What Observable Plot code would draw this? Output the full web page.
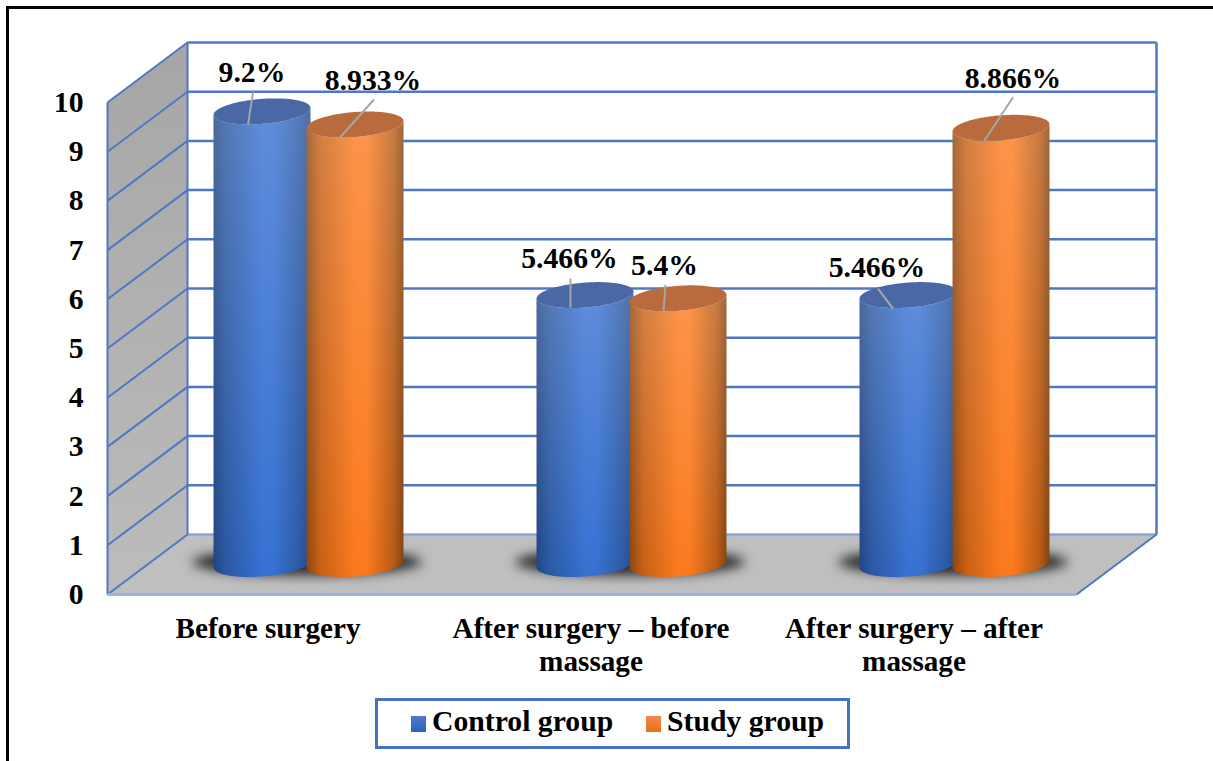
<!DOCTYPE html>
<html><head><meta charset="utf-8">
<script src="https://cdn.jsdelivr.net/npm/d3@7"></script>
<script src="https://cdn.jsdelivr.net/npm/@observablehq/plot@0.6"></script>
<style>
html,body{margin:0;padding:0;background:#fff;overflow:hidden;width:1213px;height:761px}
#root{position:relative;width:1213px;height:761px}
#root svg{display:block;background:transparent}
#frame{position:absolute;left:6px;top:6px;right:0;bottom:0;border-top:3px solid #000;border-left:3px solid #000;pointer-events:none}
#legend{position:absolute;left:375px;top:698px;width:469px;height:45px;border:3px solid #4472c4;font:bold 29.7px "Liberation Serif",serif;color:#000}
#legend span{position:absolute;white-space:nowrap}
.sw{width:15px;height:16px;top:15px}
</style></head><body>
<div id="root"><div id="frame"></div></div>
<script>
// ---- data ----
const categories = ["Before surgery", "After surgery – before\nmassage", "After surgery – after\nmassage"];
const groups = ["Control group", "Study group"];
const control = [9.2, 5.466, 5.466];
const study = [8.933, 5.4, 8.866];
const yTicks = [0, 1, 2, 3, 4, 5, 6, 7, 8, 9, 10];

// ---- chart geometry (in scale units) ----
const pxX = 323, pxY = 49.2;                 // pixels per scale unit
const depthX = 80 / pxX, depthY = 60 / pxY;  // 3D box depth
const halfGap = 0.144, rx = 0.15, ry = 12.5 / pxY, tilt = 3.5 / pxY;
// leader / label offsets in pixels from each cylinder's top centre: [endX,endY,startX,startY,labelX,labelY]
const callouts = [
  [[-14.5, 12.6, -9.5, -19.4, -10.5, -39], [-15.5, 12.5, 18.5, -25.5, 17.5, -44.5]],
  [[-15, 12, -15, -17, -16, -37], [-15, 12, -13, -14, -14, -33]],
  [[-15.5, 13, -30.5, -7, -31.5, -28], [-17.5, 13, 11.5, -31, 11.5, -50]]
];
const serif = "Liberation Serif";
const textStyle = {fontFamily: serif, fontWeight: "bold", fontSize: 29.7, fill: "#000"};
const gridBlue = "#4f77c4";

const angles = d3.range(0, 121).map(i => i / 120 * Math.PI);
const rows = [];
categories.forEach((c, i) => groups.forEach((g, j) => {
  const value = (j ? study : control)[i];
  rows.push({i, j, value, id: i + "-" + j,
    cx: i + 0.5 + depthX / 2 + (j ? halfGap : -halfGap),
    top: value + depthY / 2, base: depthY / 2, off: callouts[i][j]});
}));
const cylSide = rows.flatMap(r => angles.map(t => ({id: r.id, j: r.j,
  x: r.cx - rx * Math.cos(t),
  lo: r.base - ry * Math.sin(t) - tilt * Math.cos(t),
  hi: r.top - ry * Math.sin(t) - tilt * Math.cos(t)})));
const cylCap = rows.flatMap(r => angles.map(t => ({id: r.id, j: r.j,
  x: r.cx - rx * Math.cos(t),
  lo: r.top - ry * Math.sin(t) - tilt * Math.cos(t),
  hi: r.top + ry * Math.sin(t) - tilt * Math.cos(t)})));
const shadows = categories.flatMap((c, i) => angles.map(t => ({id: i,
  x: i + 0.5 + depthX / 2 - 1.5 / pxX - 0.355 * Math.cos(t),
  lo: 0.65 - 0.27 * Math.sin(t),
  hi: 0.65 + 0.27 * Math.sin(t)})));

const floor = [[0, 0], [3, 0], [3 + depthX, depthY], [depthX, depthY]];
const wall = [[0, 0], [depthX, depthY], [depthX, 10 + depthY], [0, 10]];
const side = (data, j) => data.filter(d => d.j === j);

const defs = () => {
  const d = d3.create("svg:defs");
  d.html(`
  <linearGradient id="gBlue"><stop offset="0" stop-color="#1f4484"/><stop offset=".12" stop-color="#2a57a2"/><stop offset=".5" stop-color="#3671d2"/><stop offset=".62" stop-color="#3671d2"/><stop offset=".9" stop-color="#2b58a4"/><stop offset="1" stop-color="#234a8c"/></linearGradient>
  <linearGradient id="gOrange"><stop offset="0" stop-color="#8c4610"/><stop offset=".14" stop-color="#c85f14"/><stop offset=".5" stop-color="#fb7a1e"/><stop offset=".62" stop-color="#fb7a1e"/><stop offset=".9" stop-color="#b85a14"/><stop offset="1" stop-color="#84420e"/></linearGradient>
  <linearGradient id="gSheen" x1="0" y1="0" x2="0" y2="1"><stop offset="0" stop-color="#fff" stop-opacity=".2"/><stop offset="1" stop-color="#fff" stop-opacity="0"/></linearGradient>
  <linearGradient id="gWall" x1="0" y1="0" x2="0" y2="1"><stop offset="0" stop-color="#a6a6a6"/><stop offset="1" stop-color="#bcbcbc"/></linearGradient>`);
  return d.node();
};

const chart = Plot.plot({
  width: 1213, height: 690,
  marginLeft: 107, marginRight: 137, marginTop: 102, marginBottom: 96,
  x: {domain: [0, 3], range: [107, 1076], axis: null},
  y: {domain: [0, 10], range: [594, 102]},
  style: {fontFamily: serif, background: "transparent"},
  marks: [
    defs,
    Plot.line(wall, {x: d => d[0], y: d => d[1], fill: "url(#gWall)", stroke: "none"}),
    Plot.line(floor, {x: d => d[0], y: d => d[1], fill: "#bfbfbf", stroke: "none"}),
    // back wall grid
    Plot.link(yTicks.slice(1), {x1: depthX, x2: 3 + depthX, y1: d => d + depthY, y2: d => d + depthY, stroke: gridBlue, strokeWidth: 2.5}),
    Plot.link(yTicks.slice(0, 1), {x1: depthX, x2: 3 + depthX, y1: d => d + depthY, y2: d => d + depthY, stroke: "#8aa6dc", strokeWidth: 2.5}),
    // left wall diagonals
    Plot.link(yTicks, {x1: 0, x2: depthX, y1: d => d, y2: d => d + depthY, stroke: gridBlue, strokeWidth: 2}),
    // box edges
    Plot.link([0], {x1: 0, x2: 0, y1: 0, y2: 10, stroke: gridBlue, strokeWidth: 2}),
    Plot.link([0], {x1: depthX, x2: depthX, y1: depthY, y2: 10 + depthY, stroke: gridBlue, strokeWidth: 2}),
    Plot.link([0], {x1: 3 + depthX, x2: 3 + depthX, y1: depthY, y2: 10 + depthY, stroke: gridBlue, strokeWidth: 2.5}),
    Plot.link([0], {x1: 3, x2: 3 + depthX, y1: 0, y2: depthY, stroke: gridBlue, strokeWidth: 2}),
    Plot.link([0], {x1: 0, x2: 3, y1: 0, y2: 0, stroke: "#9db4de", strokeWidth: 3}),
    // floor shadows
    Plot.area(shadows, {x1: "x", y1: "lo", y2: "hi", z: "id", fill: "#222", fillOpacity: 0.95, imageFilter: "blur(6px)"}),
    // cylinders
    ...[0, 1].flatMap(j => [
      Plot.area(side(cylSide, j), {x1: "x", y1: "lo", y2: "hi", z: "id", fill: j ? "url(#gOrange)" : "url(#gBlue)"}),
      Plot.area(side(cylSide, j), {x1: "x", y1: "lo", y2: "hi", z: "id", fill: "url(#gSheen)"}),
      Plot.area(side(cylCap, j), {x1: "x", y1: "lo", y2: "hi", z: "id", fill: j ? "#b96b3e" : "#4a68a6"})
    ]),
    // leader lines and value labels
    Plot.link(rows, {
      x1: d => d.cx + d.off[0] / pxX, y1: d => d.top - d.off[1] / pxY,
      x2: d => d.cx + d.off[2] / pxX, y2: d => d.top - d.off[3] / pxY,
      stroke: "#a6a6a6", strokeWidth: 2}),
    Plot.text(rows, {
      x: d => d.cx + d.off[4] / pxX, y: d => d.top - d.off[5] / pxY,
      text: d => d.value + "%", ...textStyle}),
    // axes
    Plot.axisY(yTicks, {tickSize: 0, tickPadding: 24, label: null, ...textStyle}),
    Plot.text(categories, {x: (d, i) => i + 0.5 - 1 / pxX, y: -19.5 / pxY, text: d => d, lineAnchor: "top", lineHeight: 1.14, ...textStyle, fontSize: 29.2})
  ]
});
const root = document.getElementById("root");
root.insertBefore(chart, root.firstChild);

// legend
const legend = document.createElement("div");
legend.id = "legend";
[["#5079c9", "#2c62bc", 33, 54], ["#f28c4e", "#ea6c18", 268, 289]].forEach(([a, b, sx, tx], k) => {
  const s = document.createElement("span");
  s.className = "sw";
  s.style.left = sx + "px";
  s.style.background = `linear-gradient(${a},${b})`;
  legend.appendChild(s);
  const t = document.createElement("span");
  t.textContent = groups[k];
  t.style.left = tx + "px";
  t.style.top = "4px";
  legend.appendChild(t);
});
root.appendChild(legend);
</script>
</body></html>
